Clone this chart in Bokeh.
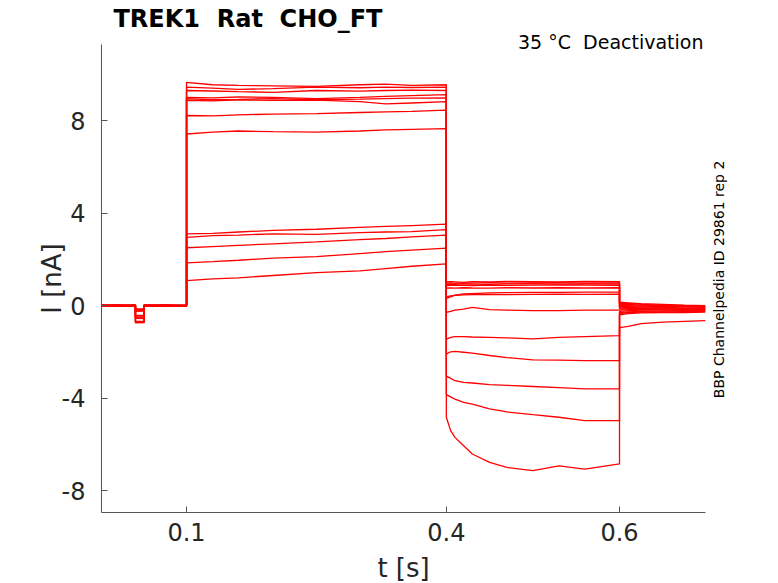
from bokeh.plotting import figure
from bokeh.models import Range1d, FixedTicker, Label, LinearAxis
from bokeh.embed import file_html
from bokeh.resources import INLINE
import math

# ---------------- data ----------------
NB = "\u00a0"
TITLE = "TREK1 " + NB + "Rat " + NB + "CHO_FT"
SUBTITLE = "35 °C " + NB + "Deactivation"
SIDE_TEXT = "BBP Channelpedia ID 29861 rep 2"
X_LABEL = "t [s]"
Y_LABEL = "I [nA]"

X_TICKS = [0.1, 0.4, 0.6]
Y_TICKS = [-8, -4, 0, 4, 8]
Y_TICK_TEXT = {-8: "-8", -4: "-4", 0: "0", 4: "4", 8: "8"}
# extent of the axes box
X_AX_START, X_AX_END = 0.0018, 0.6993
Y_AX_START, Y_AX_END = -8.95, 11.29

# sample times of each protocol segment [s]
T_PRE = [0.002, 0.02, 0.041, 0.041, 0.051, 0.051, 0.075, 0.1]
T_STEP = [0.1, 0.13, 0.16, 0.2, 0.25, 0.3, 0.33, 0.36, 0.4]
T_TAIL = [0.4, 0.405, 0.41, 0.42, 0.43, 0.45, 0.47, 0.5, 0.53, 0.56, 0.6]
T_POST = [0.6, 0.61, 0.625, 0.65, 0.675, 0.699]

# current [nA] per sweep in each segment
PRE_I = [
    [0.02, -0.03, 0.01, -0.15, -0.14, 0.02, -0.02, 0.01],
    [-0.02, 0.03, -0.01, -0.18, -0.17, 0.0, 0.03, -0.02],
    [0.0, -0.02, 0.02, -0.2, -0.21, -0.03, 0.01, 0.02],
    [0.03, 0.01, -0.02, -0.25, -0.24, 0.02, -0.03, 0.0],
    [-0.03, 0.02, 0.0, -0.42, -0.43, 0.01, 0.02, -0.01],
    [0.01, -0.01, 0.03, -0.45, -0.46, -0.02, 0.0, 0.03],
    [-0.01, 0.0, -0.03, -0.5, -0.49, 0.03, -0.01, -0.02],
    [0.02, 0.02, 0.01, -0.52, -0.53, -0.01, 0.02, 0.01],
    [0.0, -0.03, -0.02, -0.55, -0.56, 0.0, -0.02, 0.0],
    [-0.02, 0.01, 0.02, -0.68, -0.67, 0.02, 0.01, -0.03],
    [0.03, -0.02, 0.0, -0.7, -0.71, -0.03, -0.01, 0.02],
    [0.01, 0.03, -0.01, -0.72, -0.73, 0.01, 0.03, -0.01],
    [-0.03, 0.0, 0.01, -0.75, -0.74, 0.0, -0.02, 0.0],
]
STEP_I = [
    [9.65, 9.55, 9.52, 9.5, 9.48, 9.55, 9.58, 9.52, 9.55],
    [9.45, 9.4, 9.35, 9.38, 9.45, 9.42, 9.45, 9.43, 9.45],
    [9.3, 9.28, 9.25, 9.22, 9.3, 9.27, 9.3, 9.32, 9.3],
    [9.0, 8.98, 9.02, 9.0, 8.95, 9.0, 9.05, 9.08, 9.12],
    [8.95, 8.9, 8.92, 8.95, 8.9, 8.93, 8.95, 8.97, 8.98],
    [8.88, 8.85, 8.9, 8.87, 8.88, 8.82, 8.72, 8.76, 8.82],
    [8.22, 8.2, 8.25, 8.28, 8.3, 8.35, 8.38, 8.4, 8.45],
    [7.42, 7.5, 7.55, 7.52, 7.5, 7.55, 7.6, 7.62, 7.65],
    [3.1, 3.12, 3.18, 3.25, 3.3, 3.38, 3.42, 3.46, 3.52],
    [2.95, 3.02, 3.05, 3.1, 3.08, 3.15, 3.18, 3.2, 3.28],
    [2.5, 2.55, 2.6, 2.67, 2.75, 2.85, 2.9, 2.97, 3.05],
    [1.85, 1.9, 1.96, 2.05, 2.12, 2.25, 2.33, 2.4, 2.48],
    [1.08, 1.15, 1.2, 1.3, 1.42, 1.5, 1.6, 1.7, 1.8],
]
TAIL_I = [
    [1.02, 1.03, 1.02, 1.0, 1.03, 1.02, 1.04, 1.03, 1.02, 1.04, 1.03],
    [0.97, 0.98, 0.96, 0.98, 0.97, 0.99, 0.97, 0.98, 0.99, 0.97, 0.98],
    [0.92, 0.93, 0.92, 0.94, 0.93, 0.92, 0.94, 0.95, 0.93, 0.94, 0.93],
    [0.86, 0.87, 0.88, 0.87, 0.86, 0.88, 0.87, 0.88, 0.89, 0.88, 0.87],
    [0.75, 0.76, 0.75, 0.77, 0.76, 0.75, 0.77, 0.76, 0.77, 0.76, 0.77],
    [0.3, 0.38, 0.45, 0.5, 0.52, 0.55, 0.56, 0.57, 0.57, 0.58, 0.58],
    [0.38, 0.42, 0.44, 0.46, 0.47, 0.48, 0.47, 0.48, 0.49, 0.48, 0.49],
    [-0.3, -0.25, -0.2, -0.15, -0.08, -0.18, -0.2, -0.22, -0.22, -0.2, -0.2],
    [-1.45, -1.38, -1.34, -1.34, -1.36, -1.38, -1.4, -1.44, -1.38, -1.34, -1.3],
    [-2.1, -2.0, -1.98, -2.02, -2.06, -2.16, -2.25, -2.35, -2.36, -2.38, -2.38],
    [-3.05, -3.15, -3.25, -3.32, -3.35, -3.42, -3.45, -3.5, -3.55, -3.6, -3.6],
    [-3.85, -3.95, -4.05, -4.19, -4.26, -4.47, -4.6, -4.72, -4.83, -4.98, -4.98],
    [-4.83, -5.41, -5.7, -6.06, -6.42, -6.78, -7.0, -7.14, -6.93, -7.07, -6.85],
]
POST_I = [
    [0.15, 0.12, 0.08, 0.05, 0.02, 0.0],
    [0.1, 0.1, 0.05, 0.02, 0.0, -0.02],
    [0.05, 0.05, 0.02, 0.0, -0.03, -0.05],
    [0.0, 0.0, -0.02, -0.05, -0.05, -0.08],
    [-0.05, -0.05, -0.06, -0.08, -0.1, -0.1],
    [-0.1, -0.08, -0.1, -0.1, -0.12, -0.12],
    [-0.15, -0.12, -0.12, -0.14, -0.15, -0.15],
    [-0.2, -0.18, -0.17, -0.16, -0.18, -0.18],
    [-0.25, -0.22, -0.2, -0.2, -0.2, -0.2],
    [-0.3, -0.27, -0.25, -0.24, -0.22, -0.22],
    [-0.35, -0.3, -0.28, -0.27, -0.26, -0.25],
    [-0.4, -0.35, -0.32, -0.3, -0.3, -0.28],
    [-0.95, -0.9, -0.78, -0.72, -0.68, -0.65],
]

FONT = "DejaVu Sans"
TXT = "#262626"
AXC = "#555555"

W, H = 778, 583
# axes box in pixels (left, right, top, bottom)
BOX_L, BOX_R, BOX_T, BOX_B = 101, 705, 44, 512
sx = (BOX_R - BOX_L) / (X_AX_END - X_AX_START)
sy = (BOX_B - BOX_T) / (Y_AX_END - Y_AX_START)
x_range = Range1d(X_AX_START - BOX_L / sx, X_AX_END + (W - BOX_R) / sx)
y_range = Range1d(Y_AX_START - (H - BOX_B) / sy, Y_AX_END + BOX_T / sy)

p = figure(width=W, height=H, output_backend="svg", toolbar_location=None,
           x_range=x_range, y_range=y_range,
           x_axis_location=None, y_axis_location=None, min_border=0)
p.background_fill_color = "white"
p.border_fill_color = "white"
p.outline_line_color = None
p.grid.visible = False

T_ALL = T_PRE + T_STEP + T_TAIL + T_POST
for i in range(len(STEP_I)):
    y = PRE_I[i] + STEP_I[i] + TAIL_I[i] + POST_I[i]
    p.line(T_ALL, y, line_color="#ff0000", line_width=1.3)

xax = LinearAxis(fixed_location=Y_AX_START, bounds=(X_AX_START, X_AX_END),
                 ticker=FixedTicker(ticks=X_TICKS))
yax = LinearAxis(fixed_location=X_AX_START, bounds=(Y_AX_START, Y_AX_END),
                 ticker=FixedTicker(ticks=Y_TICKS), major_label_overrides=Y_TICK_TEXT)
for ax in (xax, yax):
    ax.axis_line_color = AXC
    ax.axis_line_width = 1
    ax.major_tick_line_color = AXC
    ax.major_tick_in = 6
    ax.major_tick_out = 0
    ax.minor_tick_line_color = None
    ax.major_label_text_font = FONT
    ax.major_label_text_font_size = "24px"
    ax.major_label_text_color = TXT
xax.major_label_standoff = 10
yax.major_label_standoff = 16
p.add_layout(xax, "below")
p.add_layout(yax, "left")

# axis labels and texts
p.add_layout(Label(x=0.3506, y=Y_AX_START, y_offset=-55, text=X_LABEL,
                   text_font=FONT, text_font_size="26px", text_color=TXT,
                   text_align="center", text_baseline="middle"))
p.add_layout(Label(x=X_AX_START, y=1.17, x_offset=-50, text=Y_LABEL, angle=math.pi / 2,
                   text_font=FONT, text_font_size="26px", text_color=TXT,
                   text_align="center", text_baseline="middle"))
p.add_layout(Label(x=X_AX_START, y=Y_AX_END, x_offset=12, y_offset=26, text=TITLE,
                   text_font=FONT, text_font_size="24px", text_font_style="bold",
                   text_color="black", text_align="left", text_baseline="middle"))
p.add_layout(Label(x=X_AX_END, y=Y_AX_END, x_offset=-2, y_offset=3, text=SUBTITLE,
                   text_font=FONT, text_font_size="19px", text_color="black",
                   text_align="right", text_baseline="middle"))
p.add_layout(Label(x=X_AX_END, y=1.13, x_offset=13, text=SIDE_TEXT, angle=math.pi / 2,
                   text_font=FONT, text_font_size="14px", text_color="black",
                   text_align="center", text_baseline="middle"))

open("out.html", "w").write(file_html(p, INLINE))
